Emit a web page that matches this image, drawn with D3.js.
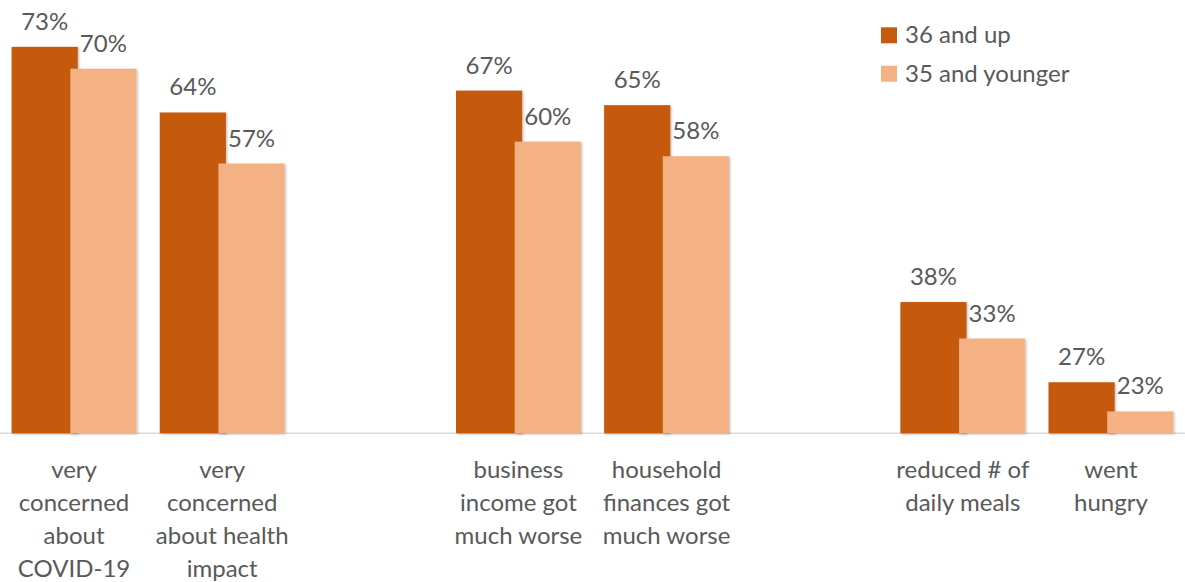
<!DOCTYPE html>
<html>
<head>
<meta charset="utf-8">
<script src="https://cdn.jsdelivr.net/npm/d3@7"></script>
<style>
  html, body { margin: 0; padding: 0; background: #fff; }
  svg { display: block; }
  text { font-family: Lato, "Open Sans", sans-serif; fill: #595959; }
</style>
</head>
<body>
<svg id="chart" width="1185" height="582"></svg>
<script>
// Category slots (blank keys leave the gaps between topic groups)
const categories = ["c1", "c2", "gap1", "c3", "c4", "gap2", "c5", "c6"];
const categoryLabels = {
  c1: ["very", "concerned", "about", "COVID-19"],
  c2: ["very", "concerned", "about health", "impact"],
  c3: ["business", "income got", "much worse"],
  c4: ["household", "finances got", "much worse"],
  c5: ["reduced # of", "daily meals"],
  c6: ["went", "hungry"]
};
const seriesNames = ["36 and up", "35 and younger"];
const olderValues = { c1: 73, c2: 64, c3: 67, c4: 65, c5: 38, c6: 27 };
const youngerValues = { c1: 70, c2: 57, c3: 60, c4: 58, c5: 33, c6: 23 };
const seriesColors = ["#C55A11", "#F4B183"];
const valueDomain = [20, 80];

const W = 1185, baseY = 433.3, topY = -4.2;
const svg = d3.select("#chart");

// soft shadow on the bars
const defs = svg.append("defs");
const f = defs.append("filter").attr("id", "barShadow")
  .attr("x", "-10%").attr("y", "-10%").attr("width", "130%").attr("height", "130%");
f.append("feDropShadow").attr("dx", 1.2).attr("dy", 1).attr("stdDeviation", 1.2)
  .attr("flood-color", "#000").attr("flood-opacity", 0.25);

const x = d3.scaleBand().domain(categories).range([0, W]).padding(0);
const y = d3.scaleLinear().domain(valueDomain).range([baseY, topY]);

const groupSpan = x.bandwidth() * 0.843;   // both bars together
const barW = groupSpan * 0.53;              // bars overlap slightly

const keys = categories.filter(c => categoryLabels[c]);
const series = [olderValues, youngerValues];

// baseline
svg.append("line")
  .attr("x1", 0).attr("x2", W)
  .attr("y1", baseY).attr("y2", baseY)
  .attr("stroke", "#d9d9d9").attr("stroke-width", 1.5);

series.forEach((vals, si) => {
  const g = svg.append("g");
  const bx = k => {
    const cx = x(k) + x.bandwidth() / 2;
    return si === 0 ? cx - groupSpan / 2 : cx + groupSpan / 2 - barW;
  };
  g.selectAll("rect").data(keys).join("rect")
    .attr("x", k => bx(k))
    .attr("y", k => y(vals[k]))
    .attr("width", barW)
    .attr("height", k => baseY - y(vals[k]))
    .attr("fill", seriesColors[si])
    .attr("filter", "url(#barShadow)");
  g.selectAll("text").data(keys).join("text")
    .attr("x", k => bx(k) + barW / 2)
    .attr("y", k => y(vals[k]) - 17)
    .attr("text-anchor", "middle")
    .attr("font-size", 24)
    .text(k => vals[k] + "%");
});

// category labels
const lab = svg.append("g");
keys.forEach(k => {
  const t = lab.append("text")
    .attr("x", x(k) + x.bandwidth() / 2)
    .attr("y", 477.5)
    .attr("text-anchor", "middle")
    .attr("font-size", 24);
  categoryLabels[k].forEach((line, i) => {
    t.append("tspan")
      .attr("x", x(k) + x.bandwidth() / 2)
      .attr("dy", i === 0 ? 0 : 33)
      .text(line);
  });
});

// legend
const leg = svg.append("g").attr("transform", "translate(881,0)");
seriesNames.forEach((name, i) => {
  const by = 43.3 + i * 38.4;
  leg.append("rect")
    .attr("x", 0).attr("y", by - 16)
    .attr("width", 16).attr("height", 16)
    .attr("fill", seriesColors[i]);
  leg.append("text")
    .attr("x", 24).attr("y", by)
    .attr("font-size", 24)
    .text(name);
});
</script>
</body>
</html>
